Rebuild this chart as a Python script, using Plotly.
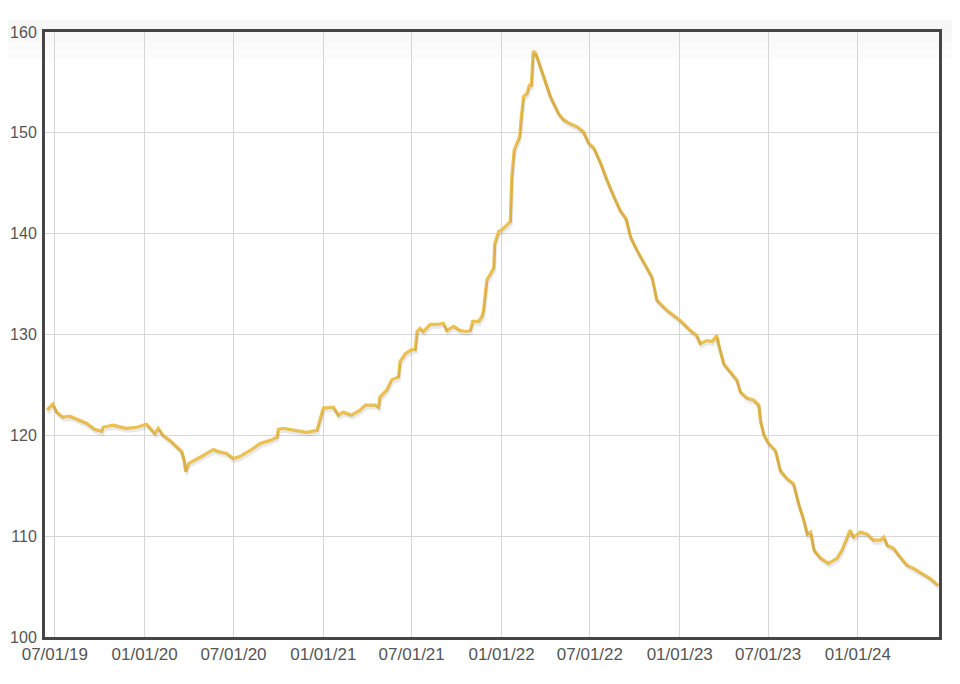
import plotly.graph_objects as go

dates = [
    "2019-06-15", "2019-06-27", "2019-07-05", "2019-07-18", "2019-08-01", "2019-08-22",
    "2019-09-04", "2019-09-21", "2019-10-05", "2019-10-08", "2019-10-28", "2019-11-25",
    "2019-12-16", "2020-01-05", "2020-01-22", "2020-01-29", "2020-02-08", "2020-02-22",
    "2020-03-07", "2020-03-17", "2020-03-22", "2020-03-25", "2020-03-31", "2020-04-17",
    "2020-04-30", "2020-05-21", "2020-05-31", "2020-06-17", "2020-07-01", "2020-07-14",
    "2020-08-04", "2020-08-25", "2020-09-14", "2020-09-28", "2020-10-01", "2020-10-11",
    "2020-11-08", "2020-11-28", "2020-12-19", "2020-12-29", "2021-01-01", "2021-01-22",
    "2021-02-01", "2021-02-11", "2021-02-28", "2021-03-17", "2021-03-28", "2021-04-17",
    "2021-04-24", "2021-04-27", "2021-05-11", "2021-05-21", "2021-06-04", "2021-06-07",
    "2021-06-18", "2021-07-01", "2021-07-08", "2021-07-12", "2021-07-18", "2021-07-25",
    "2021-08-08", "2021-08-22", "2021-09-04", "2021-09-11", "2021-09-25", "2021-10-08",
    "2021-10-22", "2021-10-29", "2021-11-03", "2021-11-15", "2021-11-22", "2021-11-25",
    "2021-11-29", "2021-12-02", "2021-12-16", "2021-12-18", "2021-12-26", "2022-01-02",
    "2022-01-19", "2022-01-22", "2022-01-27", "2022-02-07", "2022-02-10", "2022-02-15",
    "2022-02-22", "2022-02-27", "2022-03-03", "2022-03-07", "2022-03-12", "2022-03-18",
    "2022-03-28", "2022-04-11", "2022-04-28", "2022-05-08", "2022-05-22", "2022-06-05",
    "2022-06-18", "2022-06-28", "2022-07-09", "2022-07-23", "2022-08-05", "2022-08-19",
    "2022-09-01", "2022-09-13", "2022-09-22", "2022-10-05", "2022-10-26", "2022-11-05",
    "2022-11-15", "2022-12-06", "2023-01-02", "2023-01-23", "2023-02-05", "2023-02-12",
    "2023-02-26", "2023-03-08", "2023-03-18", "2023-03-21", "2023-04-01", "2023-04-15",
    "2023-04-28", "2023-05-05", "2023-05-19", "2023-06-01", "2023-06-12", "2023-06-15",
    "2023-06-22", "2023-07-02", "2023-07-16", "2023-07-26", "2023-08-09", "2023-08-22",
    "2023-09-02", "2023-09-12", "2023-09-19", "2023-09-26", "2023-10-03", "2023-10-17",
    "2023-11-02", "2023-11-19", "2023-11-29", "2023-12-10", "2023-12-16", "2023-12-23",
    "2024-01-06", "2024-01-20", "2024-02-02", "2024-02-16", "2024-02-23", "2024-03-01",
    "2024-03-14", "2024-03-28", "2024-04-11", "2024-04-24", "2024-05-11", "2024-05-28",
    "2024-06-14",
]

values = [
    122.5, 123.1, 122.3, 121.8, 121.9, 121.5,
    121.2, 120.6, 120.4, 120.8, 121.0, 120.7,
    120.8, 121.1, 120.2, 120.7, 120.0, 119.5,
    118.9, 118.4, 117.5, 116.4, 117.2, 117.7,
    118.0, 118.6, 118.4, 118.2, 117.7, 117.9,
    118.5, 119.2, 119.5, 119.8, 120.6, 120.7,
    120.5, 120.3, 120.5, 122.2, 122.7, 122.8,
    122.0, 122.3, 122.0, 122.5, 123.0, 123.0,
    122.8, 123.8, 124.5, 125.5, 125.8, 127.3,
    128.1, 128.5, 128.5, 130.3, 130.6, 130.3,
    131.0, 131.0, 131.1, 130.4, 130.8, 130.4,
    130.3, 130.4, 131.3, 131.3, 131.8, 132.4,
    134.4, 135.4, 136.6, 139.0, 140.2, 140.4,
    141.2, 145.6, 148.3, 149.6, 151.3, 153.6,
    153.9, 154.7, 154.7, 158.1, 157.9, 157.1,
    155.6, 153.6, 151.9, 151.3, 150.9, 150.6,
    150.1, 149.0, 148.5, 147.0, 145.3, 143.7,
    142.3, 141.5, 139.7, 138.4, 136.6, 135.7,
    133.4, 132.4, 131.4, 130.4, 129.9, 129.1,
    129.4, 129.3, 129.9, 129.1, 127.1, 126.3,
    125.5, 124.3, 123.7, 123.5, 123.0, 121.5,
    120.1, 119.2, 118.5, 116.5, 115.7, 115.2,
    113.1, 111.6, 110.2, 110.4, 108.6, 107.8,
    107.3, 107.8, 108.6, 109.9, 110.6, 109.9,
    110.4, 110.2, 109.6, 109.6, 109.9, 109.1,
    108.8, 107.9, 107.1, 106.8, 106.3, 105.8,
    105.1,
]

tick_dates = ["2019-07-01", "2020-01-01", "2020-07-01", "2021-01-01", "2021-07-01",
              "2022-01-01", "2022-07-01", "2023-01-01", "2023-07-01", "2024-01-01"]
tick_labels = ["07/01/19", "01/01/20", "07/01/20", "01/01/21", "07/01/21",
               "01/01/22", "07/01/22", "01/01/23", "07/01/23", "01/01/24"]
y_ticks = [100, 110, 120, 130, 140, 150, 160]

x_range = ["2019-06-11", "2024-06-15"]
y_range = [100, 160]

xfont = dict(family="Liberation Sans, Arial, sans-serif", size=17, color="#555555")
yfont = dict(family="Liberation Sans, Arial, sans-serif", size=16, color="#555555")

fig = go.Figure()

# soft shadow drawn on a slightly shifted overlay axis
fig.add_trace(go.Scatter(
    x=dates, y=values, mode="lines", xaxis="x2", yaxis="y2",
    line=dict(color="rgba(0,0,0,0.09)", width=3), hoverinfo="skip", showlegend=False,
))
fig.add_trace(go.Scatter(
    x=dates, y=values, mode="lines",
    line=dict(color="#EDC052", width=3.2), showlegend=False,
))

# light header band
bands = [(1.0198, 1.0, "#f7f7f7"), (1.0, 0.985, "#f8f8f8"), (0.985, 0.97, "#fafafa"),
         (0.97, 0.955, "#fcfcfc")]
shapes = []
for y0, y1, c in bands:
    shapes.append(dict(type="rect", xref="paper", yref="paper", x0=-0.045, x1=1.021,
                       y0=y1, y1=y0, fillcolor=c, line=dict(width=0), layer="below"))

fig.update_layout(
    width=960, height=684,
    margin=dict(l=37, r=29, t=24, b=55),
    paper_bgcolor="white",
    plot_bgcolor="rgba(0,0,0,0)",
    shapes=shapes,
    xaxis=dict(
        type="date", range=x_range, tickvals=tick_dates, ticktext=tick_labels,
        showgrid=True, gridcolor="#d6d6d6", gridwidth=1, automargin=False,
        showline=True, linecolor="#454545", linewidth=3, mirror=True,
        ticks="", zeroline=False, tickfont=xfont,
    ),
    yaxis=dict(
        range=y_range, tickvals=y_ticks, automargin=False,
        showgrid=True, gridcolor="#d6d6d6", gridwidth=1,
        showline=True, linecolor="#454545", linewidth=3, mirror=True,
        ticks="", zeroline=False, tickfont=yfont, ticklabelstandoff=2,
    ),
    xaxis2=dict(type="date", range=["2019-06-09", "2024-06-13"], overlaying="x",
                visible=False, showgrid=False),
    yaxis2=dict(range=[100.3, 160.3], overlaying="y", visible=False, showgrid=False),
)

fig.write_html("out.html")
